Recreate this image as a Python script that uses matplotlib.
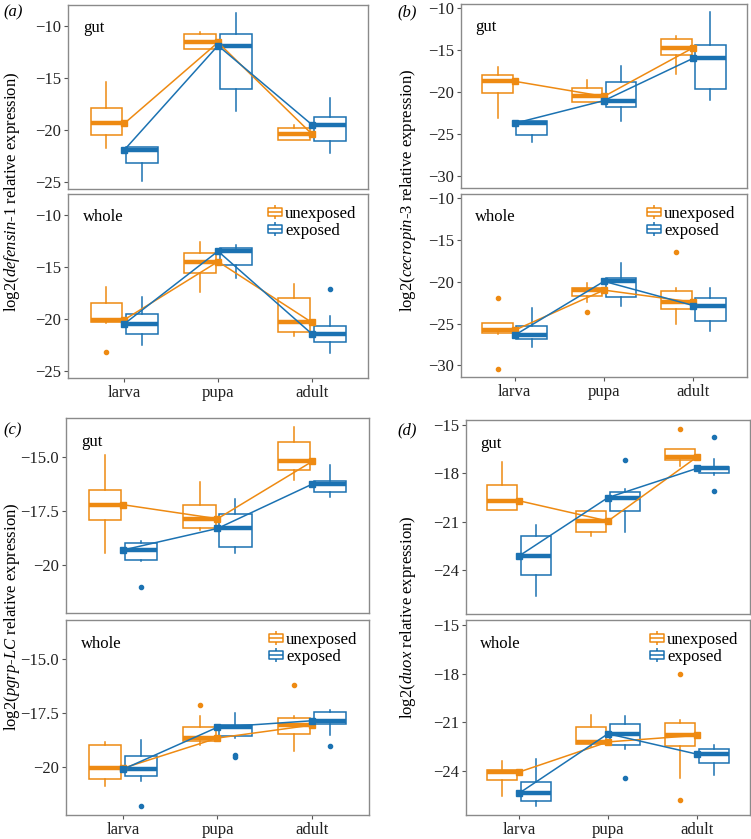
import numpy as np
import matplotlib
matplotlib.use("Agg")
import matplotlib.pyplot as plt
from matplotlib.path import Path
from matplotlib.lines import Line2D

plt.rcParams['font.family'] = ['Liberation Serif', 'DejaVu Serif']
plt.rcParams['mathtext.fontset'] = 'custom'
plt.rcParams['mathtext.rm'] = 'Liberation Serif'
plt.rcParams['mathtext.it'] = 'Liberation Serif:italic'

stages = ['larva', 'pupa', 'adult']
groups = ['unexposed', 'exposed']
# each box: (lower whisker, q1, median, q3, upper whisker)

# (a) defensin-1
a_gut_u = [(-21.8, -20.5, -19.4, -17.9, -15.4), (-12.2, -12.2, -11.6, -10.8, -10.6), (-21.0, -21.0, -20.4, -19.85, -19.5)]
a_gut_e = [(-24.9, -23.2, -21.95, -21.7, -21.7), (-18.2, -16.1, -11.9, -10.8, -8.8), (-22.2, -21.05, -19.5, -18.8, -16.9)]
a_whole_u = [(-20.45, -20.35, -20.1, -18.45, -16.9), (-17.4, -15.6, -14.5, -13.7, -12.6), (-21.7, -21.3, -20.35, -18.0, -16.7)]
a_whole_e = [(-22.5, -21.5, -20.5, -19.5, -17.95), (-16.1, -14.85, -13.5, -13.2, -12.9), (-23.3, -22.2, -21.45, -20.7, -19.7)]
a_out = {'gut_u': [[], [], []], 'gut_e': [[], [], []],
         'whole_u': [[-23.2], [], []], 'whole_e': [[], [], [-17.1]]}

# (b) cecropin-3
b_gut_u = [(-23.1, -20.15, -18.7, -18.0, -17.0), (-21.2, -21.2, -20.5, -19.5, -18.5), (-17.8, -15.6, -14.7, -13.65, -13.3)]
b_gut_e = [(-25.9, -25.1, -23.7, -23.45, -23.45), (-23.4, -21.75, -21.0, -18.75, -16.9), (-20.9, -19.65, -15.95, -14.4, -10.5)]
b_whole_u = [(-26.2, -26.15, -25.8, -24.9, -24.9), (-22.4, -21.75, -21.0, -20.7, -20.2), (-25.1, -23.25, -22.45, -21.05, -20.7)]
b_whole_e = [(-27.75, -26.9, -26.4, -25.25, -23.2), (-22.9, -21.85, -19.95, -19.6, -17.7), (-25.85, -24.65, -22.85, -21.95, -20.8)]
b_out = {'gut_u': [[], [], []], 'gut_e': [[], [], []],
         'whole_u': [[-22.0, -30.4], [-23.6], [-16.4]], 'whole_e': [[], [], []]}

# (c) pgrp-LC
c_gut_u = [(-19.45, -17.9, -17.2, -16.5, -14.9), (-18.35, -18.3, -17.85, -17.2, -16.15), (-16.05, -15.6, -15.2, -14.3, -13.6)]
c_gut_e = [(-19.8, -19.75, -19.3, -18.95, -18.9), (-19.45, -19.15, -18.3, -17.65, -16.95), (-16.85, -16.6, -16.25, -16.1, -15.35)]
c_whole_u = [(-20.85, -20.55, -20.05, -18.95, -18.85), (-18.95, -18.8, -18.65, -18.15, -17.65), (-19.25, -18.45, -18.05, -17.7, -17.65)]
c_whole_e = [(-20.65, -20.4, -20.1, -19.5, -18.75), (-18.65, -18.55, -18.15, -18.05, -17.5), (-18.5, -18.0, -17.85, -17.45, -17.35)]
c_out = {'gut_u': [[], [], []], 'gut_e': [[-21.0], [], []],
         'whole_u': [[], [-17.1], [-16.2]], 'whole_e': [[-21.8], [-19.45, -19.55], [-19.0]]}

# (d) duox
d_gut_u = [(-20.25, -20.25, -19.7, -18.75, -17.3), (-21.85, -21.6, -20.95, -20.35, -20.35), (-17.55, -17.15, -17.0, -16.5, -16.5)]
d_gut_e = [(-25.6, -24.3, -23.1, -21.85, -21.2), (-21.65, -20.3, -19.5, -19.15, -18.95), (-18.1, -17.95, -17.7, -17.6, -17.1)]
d_whole_u = [(-25.5, -24.55, -24.05, -23.95, -23.4), (-22.5, -22.35, -22.2, -21.3, -20.55), (-24.45, -22.45, -21.8, -21.05, -20.85)]
d_whole_e = [(-26.15, -25.85, -25.35, -24.65, -23.25), (-22.65, -22.4, -21.7, -21.1, -20.6), (-24.25, -23.5, -22.95, -22.65, -22.4)]
d_out = {'gut_u': [[], [], [-15.25]], 'gut_e': [[], [-17.15], [-15.75, -19.1]],
         'whole_u': [[], [], [-18.05, -25.75]], 'whole_e': [[], [-24.45], []]}

genes = [
    ('(a)', r'log2($\mathit{defensin}$-$\mathit{1}$ relative expression)',
     {'gut_u': a_gut_u, 'gut_e': a_gut_e, 'whole_u': a_whole_u, 'whole_e': a_whole_e}, a_out,
     [-10, -15, -20, -25], ['−10', '−15', '−20', '−25']),
    ('(b)', r'log2($\mathit{cecropin}$-$\mathit{3}$ relative expression)',
     {'gut_u': b_gut_u, 'gut_e': b_gut_e, 'whole_u': b_whole_u, 'whole_e': b_whole_e}, b_out,
     [-10, -15, -20, -25, -30], ['−10', '−15', '−20', '−25', '−30']),
    ('(c)', r'log2($\mathit{pgrp}$-$\mathit{LC}$ relative expression)',
     {'gut_u': c_gut_u, 'gut_e': c_gut_e, 'whole_u': c_whole_u, 'whole_e': c_whole_e}, c_out,
     [-15, -17.5, -20], ['−15.0', '−17.5', '−20']),
    ('(d)', r'log2($\mathit{duox}$ relative expression)',
     {'gut_u': d_gut_u, 'gut_e': d_gut_e, 'whole_u': d_whole_u, 'whole_e': d_whole_e}, d_out,
     [-15, -18, -21, -24], ['−15', '−18', '−21', '−24']),
]

col_u = '#EE8A12'
col_e = '#1B72B2'
frame_col = '#8a8a8a'

W, H = 751, 839
fig = plt.figure(figsize=(W / 100, H / 100), dpi=100)

# panel pixel boxes: left, right, gut top, gut bottom, whole top, whole bottom
boxes = [
    (68, 368, 5, 189, 194, 378),
    (461, 747, 4, 188, 194, 377),
    (66, 369, 418, 613, 620, 815),
    (466, 750, 420, 614, 620, 815),
]
label_pos = [(3, 12), (397, 12), (3, 430), (397, 430)]
ylab_x = [12, 408, 12, 408]


def pix_axes(l, r, t, b):
    return fig.add_axes([l / W, 1 - b / H, (r - l) / W, (b - t) / H])


# legend glyph: small boxplot
glyph = Path([(-1, -0.6), (1, -0.6), (1, 0.6), (-1, 0.6), (-1, -0.6),
              (-1, 0), (1, 0), (0, 0.6), (0, 1), (0, -0.6), (0, -1)],
             [Path.MOVETO, Path.LINETO, Path.LINETO, Path.LINETO, Path.CLOSEPOLY,
              Path.MOVETO, Path.LINETO, Path.MOVETO, Path.LINETO, Path.MOVETO, Path.LINETO])

for (tag, ylab, data, outs, yt, ytl), (l, r, gt, gb, wt, wb), lp, yx in zip(genes, boxes, label_pos, ylab_x):
    allv = [v for k in data for s in data[k] for v in s] + [v for k in outs for o in outs[k] for v in o]
    lo, hi = min(allv), max(allv)
    pad = (hi - lo) * 0.05
    ylim = (lo - pad, hi + pad)

    for tissue, (t, b) in zip(['gut', 'whole'], [(gt, gb), (wt, wb)]):
        ax = pix_axes(l, r, t, b)
        for g, col, off in [('u', col_u, -0.19), ('e', col_e, 0.19)]:
            key = tissue + '_' + g
            stats = []
            for i, s in enumerate(data[key]):
                stats.append(dict(whislo=s[0], q1=s[1], med=s[2], q3=s[3], whishi=s[4],
                                  fliers=outs[key][i]))
            pos = np.arange(1, 4) + off
            ax.bxp(stats, positions=pos, widths=0.34, showcaps=False, patch_artist=True,
                   boxprops=dict(facecolor='white', edgecolor=col, linewidth=1.1),
                   whiskerprops=dict(color=col, linewidth=1.1),
                   medianprops=dict(color=col, linewidth=3.2, solid_capstyle='butt'),
                   flierprops=dict(marker='o', markersize=3, markerfacecolor=col,
                                   markeredgecolor=col))
        for g, col in [('u', col_u), ('e', col_e)]:
            meds = [s[2] for s in data[tissue + '_' + g]]
            ax.plot([1, 2, 3], meds, color=col, lw=1.1, marker='s', ms=5, zorder=5)

        ax.set_xlim(0.4, 3.6)
        ax.set_ylim(*ylim)
        ax.set_yticks(yt)
        ax.set_yticklabels(ytl, fontsize=12)
        for sp in ax.spines.values():
            sp.set_color(frame_col)
            sp.set_linewidth(1.0)
        ax.tick_params(axis='both', direction='out', length=3, color='#555555', width=0.8,
                       labelcolor='#222222', pad=2)
        ax.text(0.05, 0.92, tissue, transform=ax.transAxes, fontsize=12, va='top', ha='left')
        if tissue == 'gut':
            ax.set_xticks([])
        else:
            ax.set_xticks([1, 2, 3])
            ax.set_xticklabels(stages, fontsize=12)
            hdl = [Line2D([], [], ls='none', marker=glyph, ms=10, markerfacecolor='none',
                          markeredgecolor=c, mew=1.1) for c in (col_u, col_e)]
            ax.legend(hdl, groups, loc='upper right', frameon=False, fontsize=12,
                      handlelength=0.8, handletextpad=0.2, labelspacing=0.1,
                      borderaxespad=0.3, bbox_to_anchor=(1.0, 1.0))

    fig.text(lp[0] / W, 1 - lp[1] / H, tag, fontsize=12, style='italic', va='center', ha='left')
    fig.text(yx / W, 1 - ((gt + wb) / 2) / H, ylab, rotation=90, fontsize=12,
             va='center', ha='center')

fig.savefig('out.png', dpi=100)
